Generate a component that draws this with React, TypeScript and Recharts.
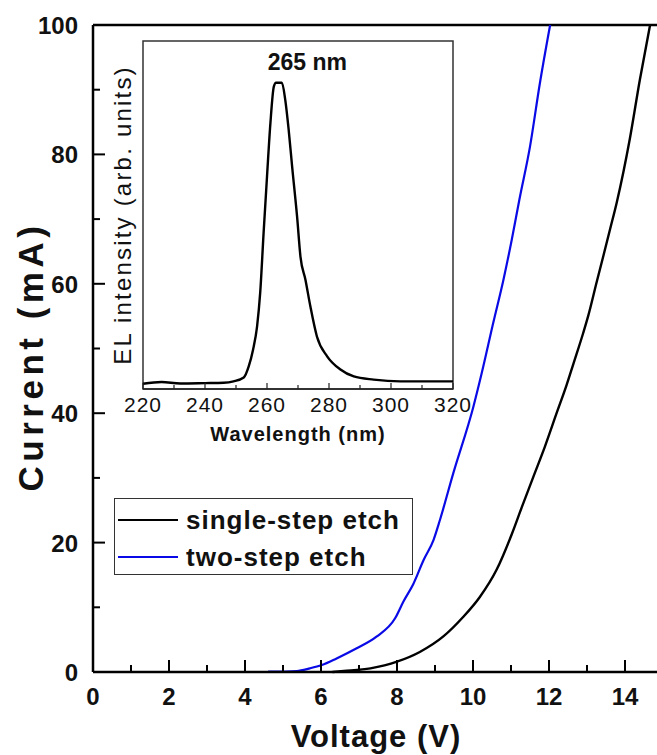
import React from 'react';
import { LineChart, Line, XAxis, YAxis, ReferenceLine, ReferenceArea, ReferenceDot, Legend } from 'recharts';

// I-V curves
const singleStepV = [6.3, 6.6, 7.3, 8.0, 8.6, 9.22, 9.74, 10.18, 10.62, 11.02, 11.28, 11.59, 11.89, 12.2, 12.46, 12.64, 12.9, 13.03, 13.26, 13.43, 13.61, 13.78, 14.13, 14.39, 14.66];
const singleStepI = [0, 0.15, 0.57, 1.6, 3.1, 5.5, 8.5, 11.6, 15.8, 21.3, 25.4, 30.2, 34.8, 40, 44.3, 47.6, 52.4, 55, 60.4, 64.3, 68.5, 72.5, 82.5, 91.5, 100];
const twoStepV = [4.61, 5.36, 5.71, 6.02, 6.41, 6.94, 7.46, 7.95, 8.17, 8.43, 8.7, 8.96, 9.13, 9.48, 10.01, 10.23, 10.53, 10.8, 11.02, 11.22, 11.5, 11.76, 12.03];
const twoStepI = [0.05, 0.15, 0.57, 1.08, 2.1, 3.66, 5.46, 8.3, 10.9, 13.6, 17.3, 20.4, 23.5, 30.7, 41, 46.2, 53.9, 60.6, 66.8, 73, 81.2, 91, 100];

// EL spectrum (inset)
const wavelength = [220, 226, 232, 240, 246, 249.2, 252.5, 254.1, 255.5, 256.8, 257.8, 258.9, 260, 261.1, 262.2, 262.9, 264.8, 265.9, 267, 268.1, 269.7, 270.8, 272.4, 274, 276.1, 279.4, 283.7, 288, 294.4, 303, 320];
const elIntensity = [1.5, 2.0, 1.6, 1.7, 1.8, 2.2, 3.3, 6.5, 11.3, 18, 27.6, 44.8, 61, 76.4, 86.9, 88, 88, 83, 74.4, 64, 49.6, 38, 31.4, 23.7, 15.1, 9.4, 5.6, 3.6, 2.7, 2.2, 2.2];

const voltageTicks = [0, 1, 2, 3, 4, 5, 6, 7, 8, 9, 10, 11, 12, 13, 14];
const currentTicks = [0, 10, 20, 30, 40, 50, 60, 70, 80, 90, 100];
const wavelengthTicks = [220, 230, 240, 250, 260, 270, 280, 290, 300, 310, 320];

const singleStep = singleStepV.map((v, i) => ({ v, i: singleStepI[i] }));
const twoStep = twoStepV.map((v, i) => ({ v, i: twoStepI[i] }));
const spectrum = wavelength.map((w, i) => ({ w, el: elIntensity[i] }));

const FONT = '"Liberation Sans", Arial, sans-serif';

const MainXTick = ({ x, y, payload }: any) => {
  const major = payload.value % 2 === 0;
  return (
    <g>
      <line x1={x} x2={x} y1={y} y2={y - (major ? 12 : 7)} stroke="#000" strokeWidth={2} />
      {major && (
        <text x={x} y={y + 33} textAnchor="middle" fontSize={24} fontWeight="bold" fontFamily={FONT} fill="#111">
          {payload.value}
        </text>
      )}
    </g>
  );
};

const MainYTick = ({ x, y, payload }: any) => {
  const major = payload.value % 20 === 0;
  return (
    <g>
      <line x1={x} x2={x + (major ? 12 : 7)} y1={y} y2={y} stroke="#000" strokeWidth={2} />
      {major && (
        <text x={x - 15} y={y + 9} textAnchor="end" fontSize={24} fontWeight="bold" fontFamily={FONT} fill="#111">
          {payload.value}
        </text>
      )}
    </g>
  );
};

const InsetXTick = ({ x, y, payload }: any) => {
  const major = payload.value % 20 === 0;
  return (
    <g>
      <line x1={x} x2={x} y1={y} y2={y - (major ? 6 : 4)} stroke="#222" strokeWidth={1.2} />
      {major && (
        <text x={x} y={y + 23} textAnchor="middle" fontSize={21} fontFamily={FONT} fill="#111" letterSpacing={1}>
          {payload.value}
        </text>
      )}
    </g>
  );
};

const voltageTitle = (props: any) => {
  const vb = props.viewBox;
  return (
    <text x={376} y={vb.y + 75} textAnchor="middle" fontSize={31} fontWeight="bold" fontFamily={FONT} fill="#111" letterSpacing={1}>
      Voltage (V)
    </text>
  );
};

const currentTitle = (props: any) => {
  const vb = props.viewBox;
  const cy = vb.y + vb.height / 2 + 8;
  return (
    <text x={43} y={cy} transform={`rotate(-90 43 ${cy})`} textAnchor="middle" fontSize={35} fontWeight="bold" fontFamily={FONT} fill="#111" letterSpacing={4.5}>
      Current (mA)
    </text>
  );
};

const wavelengthTitle = (props: any) => {
  const vb = props.viewBox;
  return (
    <text x={vb.x + vb.width / 2} y={vb.y + 52} textAnchor="middle" fontSize={20} fontWeight="bold" fontFamily={FONT} fill="#111" letterSpacing={1}>
      Wavelength (nm)
    </text>
  );
};

const intensityTitle = (props: any) => {
  const vb = props.viewBox;
  const cy = vb.y + vb.height / 2;
  const cx = vb.x + 28;
  return (
    <text x={cx} y={cy} transform={`rotate(-90 ${cx} ${cy})`} textAnchor="middle" fontSize={24} fontFamily={FONT} fill="#111" letterSpacing={2.2}>
      EL intensity (arb. units)
    </text>
  );
};

const renderLegend = (props: any) => {
  const payload = props.payload || [];
  return (
    <div style={{ width: 299, height: 77, border: '1.5px solid #333', background: '#fff', boxSizing: 'border-box', position: 'relative' }}>
      {payload.map((entry: any, idx: number) => (
        <div key={idx} style={{ position: 'absolute', left: 3, top: 6 + idx * 37, height: 30, display: 'flex', alignItems: 'center' }}>
          <span style={{ display: 'inline-block', width: 60, height: 0, borderTop: `2.5px solid ${entry.color}` }} />
          <span style={{ marginLeft: 8, fontFamily: FONT, fontWeight: 'bold', fontSize: 26, letterSpacing: 1, color: '#111', whiteSpace: 'nowrap' }}>
            {entry.value}
          </span>
        </div>
      ))}
    </div>
  );
};

export default function App() {
  return (
    <div style={{ position: 'absolute', left: 0, top: 0, width: 657, height: 755, overflow: 'hidden', background: '#fff' }}>
      <div style={{ position: 'absolute', left: 0, top: 0 }}>
        <LineChart width={700} height={755} margin={{ top: 25, right: 37, left: 0, bottom: 0 }}>
          <XAxis
            type="number"
            dataKey="v"
            domain={[0, 15]}
            ticks={voltageTicks}
            interval={0}
            height={83}
            tickSize={0}
            tickMargin={0}
            tickLine={false}
            tick={<MainXTick />}
            axisLine={{ stroke: '#000', strokeWidth: 2.5 }}
            label={voltageTitle}
          />
          <YAxis
            type="number"
            dataKey="i"
            domain={[0, 100]}
            ticks={currentTicks}
            interval={0}
            width={93}
            tickSize={0}
            tickMargin={0}
            tickLine={false}
            tick={<MainYTick />}
            axisLine={{ stroke: '#000', strokeWidth: 2.5 }}
            label={currentTitle}
          />
          <ReferenceLine y={100} stroke="#000" strokeWidth={2.5} />
          <Legend
            layout="horizontal"
            verticalAlign="middle"
            align="center"
            content={renderLegend}
            wrapperStyle={{ left: 114, top: 498, width: 299, height: 77 }}
          />
          <Line name="single-step etch" data={singleStep} dataKey="i" type="monotone" stroke="#000" strokeWidth={2.4} dot={false} isAnimationActive={false} />
          <Line name="two-step etch" data={twoStep} dataKey="i" type="monotone" stroke="#0a0ae6" strokeWidth={2.2} dot={false} isAnimationActive={false} />
        </LineChart>
      </div>
      <div style={{ position: 'absolute', left: 0, top: 0 }}>
        <LineChart width={657} height={755} data={spectrum} margin={{ top: 41, right: 204, left: 103, bottom: 316 }}>
          <XAxis
            type="number"
            dataKey="w"
            domain={[220, 320]}
            ticks={wavelengthTicks}
            interval={0}
            height={50}
            tickSize={0}
            tickMargin={0}
            tickLine={false}
            tick={<InsetXTick />}
            axisLine={{ stroke: '#222', strokeWidth: 1.5 }}
            label={wavelengthTitle}
          />
          <YAxis type="number" domain={[0, 100]} width={40} tick={false} tickLine={false} axisLine={false} label={intensityTitle} />
          <ReferenceArea x1={220} x2={320} y1={0} y2={100} fill="none" stroke="#333" strokeWidth={1.5} />
          <ReferenceDot
            x={273}
            y={94}
            r={0}
            fill="none"
            stroke="none"
            label={{ value: '265 nm', position: 'center', fontSize: 23, fontWeight: 'bold', fontFamily: FONT, fill: '#111' }}
          />
          <Line dataKey="el" type="monotone" stroke="#000" strokeWidth={2.4} dot={false} isAnimationActive={false} />
        </LineChart>
      </div>
    </div>
  );
}
